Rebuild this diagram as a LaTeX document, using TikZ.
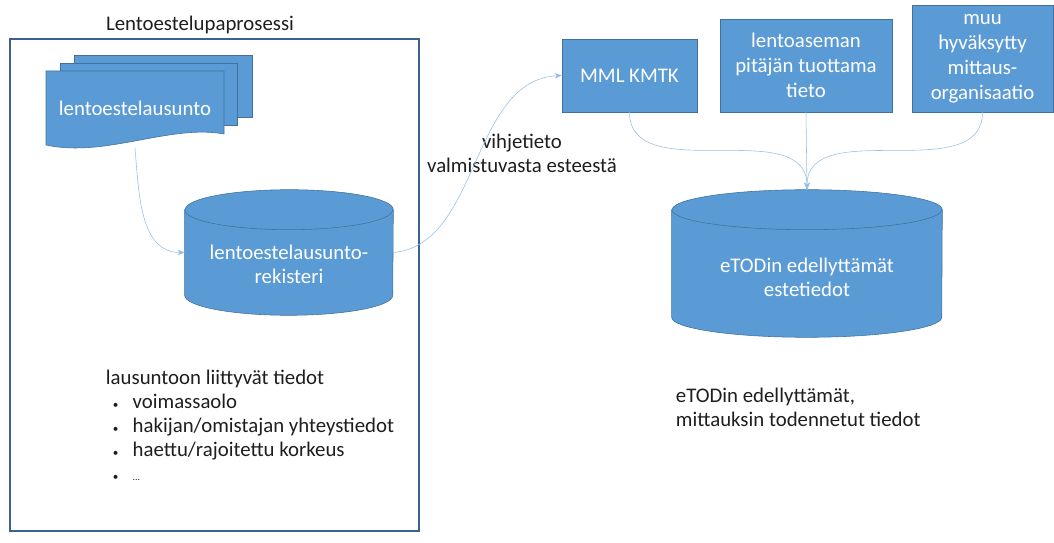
\documentclass[tikz,border=0pt]{standalone}
\usepackage{fontspec}
\setmainfont{Carlito}
\usetikzlibrary{arrows.meta, positioning, shapes.geometric}
\definecolor{officeblue}{RGB}{91, 155, 213}
\definecolor{edgeblue}{RGB}{65, 113, 156}
\definecolor{frameblue}{RGB}{58, 98, 140}
\definecolor{linkblue}{RGB}{150, 190, 228}
\definecolor{textgray}{RGB}{30, 30, 30}

\begin{document}
\begin{tikzpicture}[x=0.025cm, y=-0.025cm, font=\fontsize{14.8}{17}\selectfont, text=textgray,
  box/.style={rectangle, fill=officeblue, draw=edgeblue, text=white, align=center, inner sep=0pt,
    font=\fontsize{14.8}{17.7}\selectfont},
  dbarea/.style={rectangle, inner sep=0pt},
  dbshape/.style={fill=officeblue, draw=edgeblue},
  dbtext/.style={text=white, align=center},
  link/.style={draw=linkblue, thin, -{Stealth[length=5pt, width=4pt]}}]

  \useasboundingbox (0,0) rectangle (1054,543);

  % prosessi frame
  \node (title) at (200,25) {Lentoestelupaprosessi};
  \node[draw=frameblue, line width=2pt, minimum width=10.225cm, minimum height=12.3cm] (proc) at (214.5,285) {};

  % lausunto documents
  \draw[fill=officeblue, draw=edgeblue] (74,55) rectangle (252,117);
  \draw[fill=officeblue, draw=edgeblue] (60,63) rectangle (237,125);
  \draw[fill=officeblue, draw=edgeblue] (46,71) -- (224,71) -- (224,134)
    .. controls (170,124) and (105,158) .. (46,145) -- cycle;
  \node[text=white] (doc) at (135,108) {lentoestelausunto};

  % rekisteri
  \node[dbarea, minimum width=5.2cm, minimum height=3.125cm] (reg) at (289,252.5) {};
  \draw[dbshape] ([yshift=-0.5cm]reg.north west) -- ([yshift=0.5cm]reg.south west)
    arc[start angle=180, end angle=360, x radius=2.6cm, y radius=0.5cm]
    -- ([yshift=-0.5cm]reg.north east)
    arc[start angle=0, end angle=180, x radius=2.6cm, y radius=0.5cm] -- cycle;
  \draw[edgeblue] ([yshift=-0.5cm]reg.north west)
    arc[start angle=180, end angle=360, x radius=2.6cm, y radius=0.5cm];
  \node[dbtext] (regtext) at ([yshift=-0.29cm]reg.center) {lentoestelausunto-\\rekisteri};

  \node[align=left, anchor=west] (list) at (101,425.5)
    {lausuntoon liittyv\"at tiedot\\
     \makebox[19pt][l]{\hspace{5pt}\footnotesize\textbullet}voimassaolo\\
     \makebox[19pt][l]{\hspace{5pt}\footnotesize\textbullet}hakijan/omistajan yhteystiedot\\
     \makebox[19pt][l]{\hspace{5pt}\footnotesize\textbullet}haettu/rajoitettu korkeus\\
     \makebox[19pt][l]{\hspace{5pt}\footnotesize\textbullet}{\scriptsize...}};

  % lahteet
  \node[box, minimum width=3.375cm, minimum height=1.825cm] (mml) at (629.5,75.5) {MML KMTK};
  \node[box, minimum width=4.3cm, minimum height=2.325cm] (lento) at (806,65.5)
    {lentoaseman\\pit\"aj\"an tuottama\\tieto};
  \node[box, minimum width=3.525cm, minimum height=2.675cm] (muu) at (982.5,58.5)
    {muu\\hyv\"aksytty\\mittaus-\\organisaatio};

  % eTOD
  \node[dbarea, minimum width=6.75cm, minimum height=3.675cm] (etod) at (807,263.5) {};
  \draw[dbshape] ([yshift=-0.5cm]etod.north west) -- ([yshift=0.5cm]etod.south west)
    arc[start angle=180, end angle=360, x radius=3.375cm, y radius=0.5cm]
    -- ([yshift=-0.5cm]etod.north east)
    arc[start angle=0, end angle=180, x radius=3.375cm, y radius=0.5cm] -- cycle;
  \draw[edgeblue] ([yshift=-0.5cm]etod.north west)
    arc[start angle=180, end angle=360, x radius=3.375cm, y radius=0.5cm];
  \node[dbtext] (etodtext) at ([yshift=-0.34cm]etod.center) {eTODin edellytt\"am\"at\\estetiedot};

  \node[align=center] (hint) at (522,153) {vihjetieto\\valmistuvasta esteest\"a};
  \node[align=left, anchor=west] (note) at (671,407.5)
    {eTODin edellytt\"am\"at,\\mittauksin todennetut tiedot};

  % yhteydet
  \draw[link] (doc.south |- 0,148) to[out=-85, in=180] (reg.west);
  \draw[link] (reg.east) .. controls (480,245) and (470,80) .. (mml.west);
  \draw[link] (mml.south) to[out=-90, in=90] (etod.north);
  \draw[link] (lento.south) -- (etod.north);
  \draw[link] (muu.south) to[out=-90, in=90] (etod.north);

\end{tikzpicture}
\end{document}
